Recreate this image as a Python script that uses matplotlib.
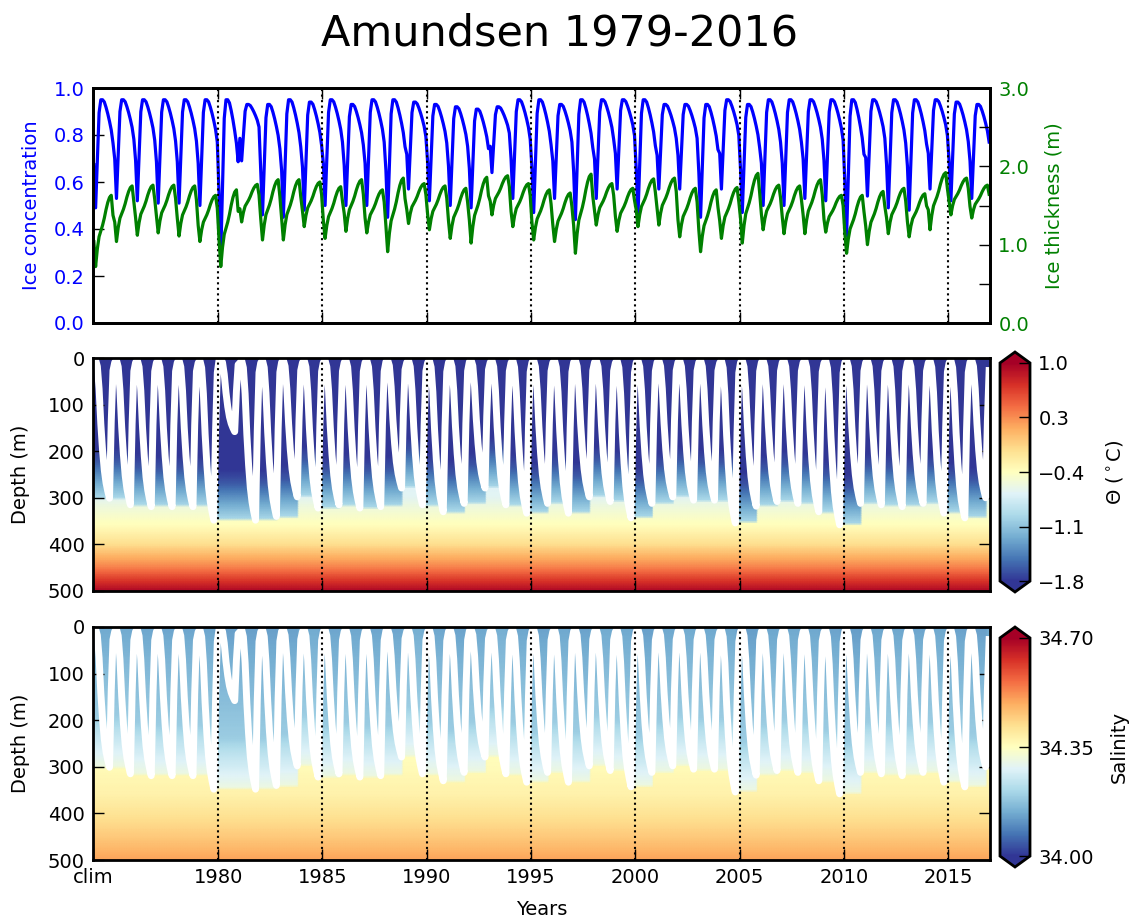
import numpy as np
import matplotlib
matplotlib.use('Agg')
import matplotlib.pyplot as plt
from matplotlib.ticker import MultipleLocator, FormatStrFormatter

# one annual cycle per year; the first six cycles are the 'clim' spin-up
years = np.arange(1974, 2017)

# February sea-ice concentration minimum and winter maximum
ice_min = [0.49, 0.53, 0.52, 0.51, 0.51, 0.50,
           0.29, 0.69, 0.46, 0.45, 0.48, 0.50, 0.50, 0.50, 0.45, 0.57,
           0.52, 0.50, 0.49, 0.64, 0.53, 0.47, 0.53, 0.44, 0.53, 0.57,
           0.46, 0.57, 0.57, 0.45, 0.57, 0.47, 0.50, 0.50, 0.53, 0.52,
           0.37, 0.54, 0.49, 0.48, 0.57, 0.52, 0.53]
ice_max = [0.95, 0.95, 0.95, 0.95, 0.95, 0.95,
           0.95, 0.93, 0.93, 0.95, 0.94, 0.95, 0.93, 0.95, 0.95, 0.94,
           0.93, 0.92, 0.91, 0.92, 0.95, 0.95, 0.93, 0.95, 0.95, 0.95,
           0.95, 0.93, 0.93, 0.93, 0.95, 0.93, 0.95, 0.95, 0.95, 0.95,
           0.95, 0.95, 0.95, 0.95, 0.95, 0.94, 0.93]

# ice thickness (m): late-summer minimum and November maximum
thick_min = [0.72, 1.04, 1.12, 1.15, 1.11, 1.04,
             0.72, 1.29, 1.06, 1.06, 1.23, 1.08, 1.17, 1.15, 0.91, 1.27,
             1.19, 1.08, 1.02, 1.38, 1.23, 1.06, 1.04, 0.89, 1.25, 1.17,
             1.23, 1.25, 1.10, 0.91, 1.08, 1.02, 1.19, 1.14, 1.14, 1.16,
             0.89, 1.00, 1.14, 1.10, 1.19, 1.38, 1.34]
thick_max = [1.63, 1.75, 1.76, 1.76, 1.75, 1.63,
             1.70, 1.77, 1.83, 1.83, 1.80, 1.74, 1.83, 1.70, 1.85, 1.78,
             1.75, 1.72, 1.86, 1.88, 1.78, 1.70, 1.66, 1.90, 1.78, 1.72,
             1.84, 1.85, 1.72, 1.70, 1.73, 1.91, 1.76, 1.75, 1.83, 1.63,
             1.63, 1.68, 1.72, 1.65, 1.92, 1.85, 1.76]

# deepest winter mixed layer (m), reached in October
mld_max = [301, 315, 319, 319, 319, 348,
           158, 348, 340, 298, 322, 315, 322, 319, 279, 315,
           330, 312, 279, 315, 333, 312, 333, 298, 308, 343,
           312, 298, 305, 305, 354, 318, 308, 312, 330, 358,
           312, 315, 319, 312, 333, 343, 300]
# top of the warm deep water left after each winter (m)
warm_top = [301, 315, 319, 319, 319, 348,
            348, 348, 340, 298, 322, 315, 322, 319, 279, 315,
            330, 312, 279, 315, 333, 312, 333, 298, 308, 343,
            312, 298, 305, 305, 354, 318, 308, 312, 330, 358,
            312, 315, 319, 312, 333, 343, 300]

# seasonal shapes Jan..Dec (0 = annual minimum, 1 = annual maximum)
ice_shape = [0.40, 0.00, 0.45, 0.88, 1.00, 1.00, 0.98, 0.93, 0.87, 0.80, 0.72, 0.60]
thick_shape = [0.35, 0.00, 0.25, 0.42, 0.50, 0.58, 0.68, 0.80, 0.90, 0.97, 1.00, 0.72]
mld_shape = [0.03, 0.015, 0.06, 0.22, 0.47, 0.66, 0.80, 0.89, 0.95, 1.00, 0.45, 0.09]

# profiles above the warm water (distance above its top)
cold_dz = [0, 40, 80, 110, 500]
cold_theta = [-0.95, -1.30, -1.65, -1.80, -1.80]
cold_salt = [34.31, 34.27, 34.23, 34.19, 34.08]
# profiles inside the warm water (absolute depth)
warm_depth = [250, 300, 330, 360, 400, 450, 500]
warm_theta = [-0.70, -0.65, -0.50, -0.38, -0.12, 0.35, 0.95]
warm_salt = [34.35, 34.36, 34.37, 34.38, 34.41, 34.45, 34.50]

year_ticks = [1974, 1980, 1985, 1990, 1995, 2000, 2005, 2010, 2015]
year_labels = ['clim', '1980', '1985', '1990', '1995', '2000', '2005', '2010', '2015']
theta_ticks = [-1.8, -1.1, -0.4, 0.3, 1.0]
salt_ticks = [34.0, 34.35, 34.7]


def monthly(low, high, shape):
    low = np.asarray(low, float)[:, None]
    high = np.asarray(high, float)[:, None]
    return (low + (high - low) * np.asarray(shape)[None, :]).ravel()


n = len(years)
t = years[0] + (np.arange(n * 12) + 0.5) / 12.0
ice = monthly(ice_min, ice_max, ice_shape)
thick = monthly(thick_min, thick_max, thick_shape)
mld = monthly(np.zeros(n), mld_max, mld_shape)

# top of the warm water: changes once the winter mixed layer is at its deepest
yr_idx = np.repeat(np.arange(n), 12)
mon_idx = np.tile(np.arange(12), n)
top_arr = np.asarray(warm_top, float)
prev = np.concatenate([[top_arr[0]], top_arr[:-1]])
base = np.where(mon_idx >= 10, top_arr[yr_idx], prev[yr_idx])

z = np.arange(0, 501, 5)
Z, B = np.meshgrid(z, base, indexing='ij')
theta = np.where(Z <= B, np.interp(B - Z, cold_dz, cold_theta),
                 np.interp(Z, warm_depth, warm_theta))
salt = np.where(Z <= B, np.interp(B - Z, cold_dz, cold_salt),
                np.interp(Z, warm_depth, warm_salt))

plt.rcParams.update({
    'font.family': 'DejaVu Sans',
    'font.size': 14,
    'axes.linewidth': 2,
    'xtick.direction': 'in',
    'ytick.direction': 'in',
    'xtick.major.size': 8,
    'ytick.major.size': 8,
    'ytick.minor.size': 8,
    'xtick.major.width': 1,
    'ytick.major.width': 1,
    'ytick.minor.width': 1,
    'xtick.major.pad': 6,
    'ytick.major.pad': 6,
    'xtick.top': True,
    'ytick.right': True,
})

W, H = 1139, 923
fig = plt.figure(figsize=(W / 100, H / 100), dpi=100)


def box(x0, y0, x1, y1):
    return [x0 / W, 1 - y1 / H, (x1 - x0) / W, (y1 - y0) / H]


fig.text(559.5 / W, 1 - 33 / H, 'Amundsen 1979-2016', fontsize=31,
         ha='center', va='center')

# top panel: ice
ax_ice = fig.add_axes(box(93, 88, 990, 323))
ax_ice.plot(t, ice, color='blue', lw=2.3)
ax_ice.set_ylim(0, 1)
ax_ice.yaxis.set_major_locator(MultipleLocator(0.2))
ax_ice.yaxis.set_major_formatter(FormatStrFormatter('%.1f'))
ax_ice.tick_params(axis='y', right=False, labelcolor='blue')
ax_ice.set_ylabel('Ice concentration', color='blue', labelpad=9)

ax_th = ax_ice.twinx()
ax_th.plot(t, thick, color='green', lw=2.3)
ax_th.set_ylim(0, 3)
ax_th.yaxis.set_major_locator(MultipleLocator(1))
ax_th.yaxis.set_minor_locator(MultipleLocator(0.5))
ax_th.yaxis.set_major_formatter(FormatStrFormatter('%.1f'))
ax_th.tick_params(axis='y', which='both', labelcolor='green', direction='in')
ax_th.set_ylabel('Ice thickness (m)', color='green', labelpad=11)
for s in ax_th.spines.values():
    s.set_linewidth(2)

# ocean panels
ax_t = fig.add_axes(box(93, 358, 990, 591))
ax_s = fig.add_axes(box(93, 627, 990, 860))
cax_t = fig.add_axes(box(1000, 352, 1030, 592))
cax_s = fig.add_axes(box(1000, 627, 1030, 867))

m_t = ax_t.pcolormesh(t, z, theta, cmap='RdYlBu_r', vmin=-1.8, vmax=1.0,
                      shading='gouraud', rasterized=True)
m_s = ax_s.pcolormesh(t, z, salt, cmap='RdYlBu_r', vmin=34.0, vmax=34.7,
                      shading='gouraud', rasterized=True)

for ax in (ax_t, ax_s):
    ax.plot(t, mld, color='white', lw=5)
    ax.set_ylim(500, 0)
    ax.yaxis.set_major_locator(MultipleLocator(100))
    ax.set_ylabel('Depth (m)', labelpad=13)

for ax in (ax_ice, ax_t, ax_s):
    ax.set_xlim(1974, 2017)
    ax.set_xticks(year_ticks)
    ax.set_xticklabels(year_labels)
    for yr in year_ticks[1:]:
        ax.axvline(yr, color='black', ls=':', lw=1.5, zorder=5)
ax_ice.tick_params(axis='x', labelbottom=False)
ax_t.tick_params(axis='x', labelbottom=False)
ax_s.set_xlabel('Years', labelpad=9)

cb_t = fig.colorbar(m_t, cax=cax_t, extend='both', ticks=theta_ticks)
cb_t.set_ticklabels([f'{v:.1f}'.replace('-', '\u2212') for v in theta_ticks])
cb_t.set_label(r'$\Theta$ ($^\circ$C)', labelpad=13)
cb_s = fig.colorbar(m_s, cax=cax_s, extend='both', ticks=salt_ticks)
cb_s.set_ticklabels([f'{v:.2f}' for v in salt_ticks])
cb_s.set_label('Salinity', labelpad=11)
for cb in (cb_t, cb_s):
    cb.outline.set_linewidth(2)
    cb.ax.tick_params(direction='in', length=8, width=1, left=False)

fig.savefig('out.png', dpi=100)
